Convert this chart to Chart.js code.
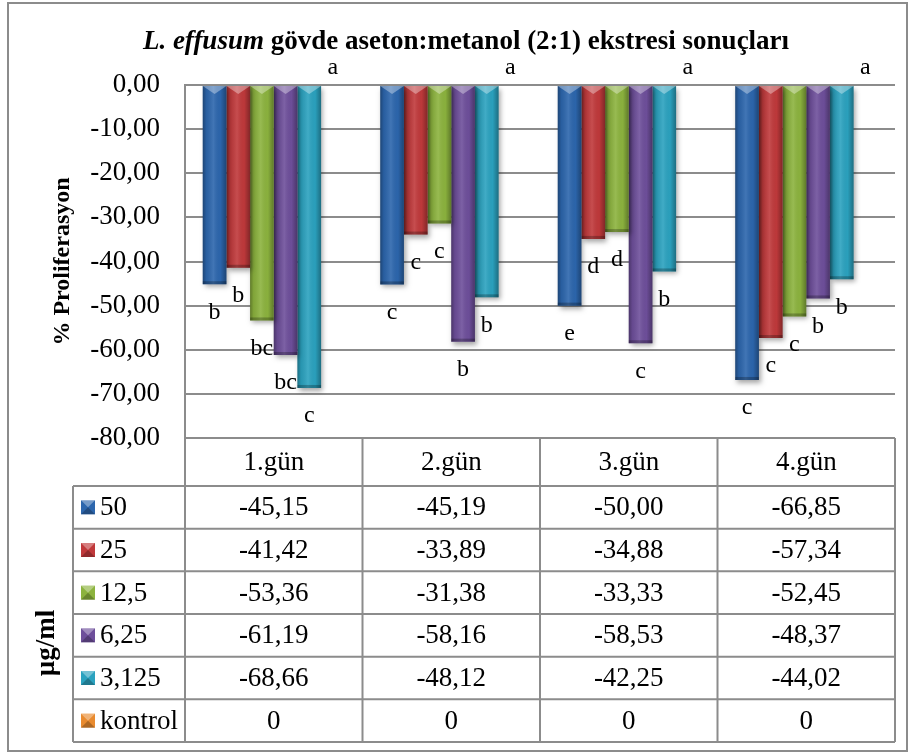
<!DOCTYPE html>
<html lang="tr">
<head>
  <meta charset="UTF-8" />
  <title>L. effusum gövde aseton:metanol (2:1)</title>
  <style>
    *, html {
      margin: 0;
      padding: 0;
      box-sizing: border-box;
    }
    body {
      background: white;
    }
    #grafik {
      display: block;
    }
  </style>
</head>
<body>
  <canvas id="grafik" width="913" height="755"></canvas>

  <script src="https://cdn.jsdelivr.net/npm/chart.js"></script>
  <script>
    // veriler
    const gunler = ['1.gün', '2.gün', '3.gün', '4.gün'];
    const seriAdlari = ['50', '25', '12,5', '6,25', '3,125', 'kontrol'];
    const d50 = [-45.15, -45.19, -50.00, -66.85];
    const d25 = [-41.42, -33.89, -34.88, -57.34];
    const d12_5 = [-53.36, -31.38, -33.33, -52.45];
    const d6_25 = [-61.19, -58.16, -58.53, -48.37];
    const d3_125 = [-68.66, -48.12, -42.25, -44.02];
    const dKontrol = [0, 0, 0, 0];

    // istatistik harfleri
    const h50 = ['b', 'c', 'e', 'c'];
    const h25 = ['b', 'c', 'd', 'c'];
    const h12_5 = ['bc', 'c', 'd', 'c'];
    const h6_25 = ['bc', 'b', 'c', 'b'];
    const h3_125 = ['c', 'b', 'b', 'b'];
    const hKontrol = ['a', 'a', 'a', 'a'];

    const yTikler = [0, -10, -20, -30, -40, -50, -60, -70, -80];

    const seriler = [d50, d25, d12_5, d6_25, d3_125, dKontrol];
    const harfler = [h50, h25, h12_5, h6_25, h3_125, hKontrol];
    const renkler = ['#2c66ad', '#c0393b', '#8cb33e', '#6e4f9b', '#2ba2bf', '#e98b2f'];

    const YAZI = "'Liberation Serif', 'Times New Roman', serif";
    const CIZGI = '#8c8c8c';

    // tablo degerleri: 0 -> "0", digerleri virgullu
    function sayiYaz(v) {
      if (v === 0) return '0';
      return v.toFixed(2).replace('.', ',');
    }

    function tikYaz(v) {
      return Number(v).toFixed(2).replace('.', ',');
    }

    // cubuklara golge ve parlama
    const cubukEfekt = {
      id: 'cubukEfekt',
      beforeDatasetDraw(chart) {
        const ctx = chart.ctx;
        ctx.save();
        ctx.shadowColor = 'rgba(0,0,0,0.35)';
        ctx.shadowBlur = 5;
        ctx.shadowOffsetX = 2;
        ctx.shadowOffsetY = 3;
      },
      afterDatasetDraw(chart, args) {
        const ctx = chart.ctx;
        ctx.restore();
        args.meta.data.forEach(el => {
          const w = el.width;
          const x0 = el.x - w / 2;
          const top = Math.min(el.y, el.base);
          const h = Math.abs(el.base - el.y);
          if (h < 1) return;
          const g = ctx.createLinearGradient(x0, 0, x0 + w, 0);
          g.addColorStop(0, 'rgba(0,0,0,0.32)');
          g.addColorStop(0.15, 'rgba(0,0,0,0.08)');
          g.addColorStop(0.45, 'rgba(255,255,255,0.10)');
          g.addColorStop(0.75, 'rgba(0,0,0,0.02)');
          g.addColorStop(1, 'rgba(0,0,0,0.32)');
          ctx.fillStyle = g;
          ctx.fillRect(x0, top, w, h);
          // ust ucgen
          ctx.fillStyle = 'rgba(255,255,255,0.35)';
          ctx.beginPath();
          ctx.moveTo(x0, top);
          ctx.lineTo(x0 + w, top);
          ctx.lineTo(el.x, top + Math.min(8, h));
          ctx.closePath();
          ctx.fill();
          // alt kenar
          ctx.fillStyle = 'rgba(0,0,0,0.25)';
          ctx.fillRect(x0, top + h - 3, w, 3);
        });
      }
    };

    // harfler, baslik, tablo
    const ekCizim = {
      id: 'ekCizim',
      afterDraw(chart) {
        const ctx = chart.ctx;
        const area = chart.chartArea;
        const xs = chart.scales.x;

        // harfler
        ctx.save();
        ctx.fillStyle = 'black';
        ctx.font = '24px ' + YAZI;
        ctx.textAlign = 'center';
        ctx.textBaseline = 'middle';
        seriler.forEach((s, i) => {
          const meta = chart.getDatasetMeta(i);
          meta.data.forEach((el, j) => {
            const y = s[j] < 0 ? el.y + 28 : el.y - 17;
            ctx.fillText(harfler[i][j], el.x, y);
          });
        });

        // baslik
        const p1 = 'L. effusum';
        const p2 = ' gövde aseton:metanol (2:1) ekstresi sonuçları';
        ctx.font = 'italic bold 27px ' + YAZI;
        const w1 = ctx.measureText(p1).width;
        ctx.font = 'bold 27px ' + YAZI;
        const w2 = ctx.measureText(p2).width;
        const bx = 466 - (w1 + w2) / 2;
        ctx.textAlign = 'left';
        ctx.font = 'italic bold 27px ' + YAZI;
        ctx.fillText(p1, bx, 42);
        ctx.font = 'bold 27px ' + YAZI;
        ctx.fillText(p2, bx + w1, 42);

        // tablo
        const adim = xs.getPixelForValue(1) - xs.getPixelForValue(0);
        const sol = area.left;
        const sag = area.right;
        const ustY = area.bottom;
        const basY = 486;
        const satir = (742 - basY) / 6;
        const anahtarX = 73;

        ctx.strokeStyle = CIZGI;
        ctx.lineWidth = 2;
        ctx.beginPath();
        ctx.moveTo(sol, ustY); ctx.lineTo(sag, ustY);
        for (let r = 0; r <= 6; r++) {
          const y = basY + r * satir;
          ctx.moveTo(anahtarX, y); ctx.lineTo(sag, y);
        }
        ctx.moveTo(anahtarX, basY); ctx.lineTo(anahtarX, basY + 6 * satir);
        for (let j = 0; j <= gunler.length; j++) {
          const x = j < gunler.length ? xs.getPixelForValue(j) - adim / 2 : sag;
          ctx.moveTo(x, ustY); ctx.lineTo(x, basY + 6 * satir);
        }
        ctx.stroke();

        ctx.fillStyle = 'black';
        ctx.font = '27px ' + YAZI;
        ctx.textAlign = 'center';
        gunler.forEach((g, j) => {
          ctx.fillText(g, xs.getPixelForValue(j), (ustY + basY) / 2 + 1);
        });

        seriler.forEach((s, i) => {
          const cy = basY + (i + 0.5) * satir;
          // anahtar kare
          const kx = 81, ky = cy - 7, k = 14;
          ctx.fillStyle = renkler[i];
          ctx.fillRect(kx, ky, k, k);
          ctx.fillStyle = 'rgba(255,255,255,0.35)';
          ctx.beginPath();
          ctx.moveTo(kx, ky); ctx.lineTo(kx + k, ky); ctx.lineTo(kx + k / 2, ky + k / 2); ctx.closePath();
          ctx.fill();
          ctx.fillStyle = 'rgba(0,0,0,0.25)';
          ctx.beginPath();
          ctx.moveTo(kx, ky + k); ctx.lineTo(kx + k, ky + k); ctx.lineTo(kx + k / 2, ky + k / 2); ctx.closePath();
          ctx.fill();

          ctx.fillStyle = 'black';
          ctx.textAlign = 'left';
          ctx.fillText(seriAdlari[i], 100, cy + 1);
          ctx.textAlign = 'center';
          s.forEach((v, j) => {
            ctx.fillText(sayiYaz(v), xs.getPixelForValue(j), cy + 1);
          });
        });

        // birim
        ctx.save();
        ctx.translate(47, 643);
        ctx.rotate(-Math.PI / 2);
        ctx.font = 'bold 27px ' + YAZI;
        ctx.fillText('µg/ml', 0, 0);
        ctx.restore();

        // dis cerceve
        ctx.strokeStyle = CIZGI;
        ctx.lineWidth = 2;
        ctx.strokeRect(8, 3, 899, 748);
        ctx.restore();
      }
    };

    new Chart(document.getElementById('grafik'), {
      type: 'bar',
      data: {
        labels: gunler,
        datasets: seriler.map((s, i) => ({
          label: seriAdlari[i],
          data: s,
          backgroundColor: renkler[i],
          borderWidth: 0,
          categoryPercentage: 0.8,
          barPercentage: 1.0
        }))
      },
      options: {
        responsive: false,
        animation: false,
        layout: {
          padding: { left: 44, right: 18, top: 85, bottom: 317 }
        },
        plugins: {
          legend: { display: false },
          tooltip: { enabled: false }
        },
        scales: {
          x: {
            display: false
          },
          y: {
            min: -80,
            max: 0,
            afterFit(scale) { scale.width = 141; },
            afterBuildTicks(scale) { scale.ticks = yTikler.map(v => ({ value: v })); },
            ticks: {
              color: 'black',
              padding: 25,
              font: { family: YAZI, size: 27 },
              callback: v => tikYaz(v)
            },
            grid: {
              color: CIZGI,
              lineWidth: 2,
              drawTicks: false
            },
            border: { color: CIZGI, width: 2 },
            title: {
              display: true,
              text: '% Proliferasyon',
              color: 'black',
              font: { family: YAZI, size: 24, weight: 'bold' }
            }
          }
        }
      },
      plugins: [cubukEfekt, ekCizim]
    });
  </script>
</body>
</html>
